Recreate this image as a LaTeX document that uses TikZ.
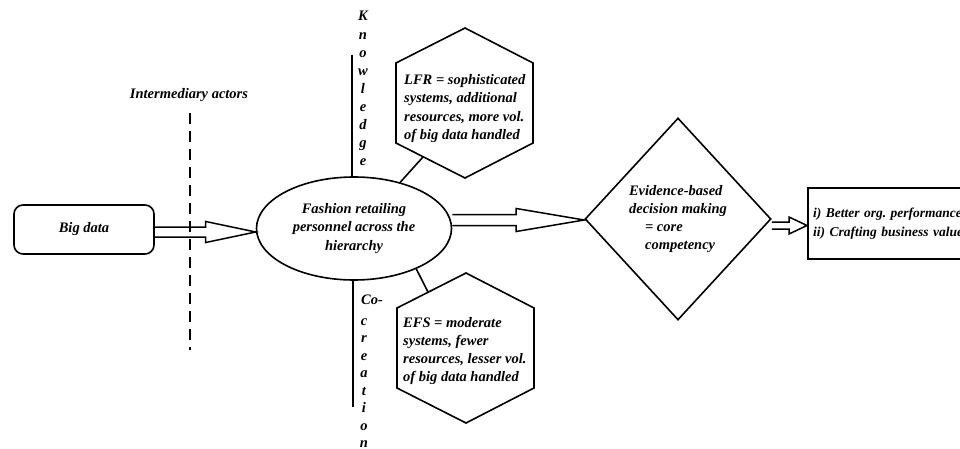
\documentclass[tikz,border=0pt]{standalone}
\usepackage{fontspec}
\setmainfont{Liberation Serif}
\usetikzlibrary{shapes.geometric,calc}
\newcommand{\hollowarr}[6]{%
  \draw[hollow] let \p1=(#1), \p2=(#2) in
    (\x1,\y2-#3pt+#4pt) -- (\x2-#6pt,\y2-#3pt+#4pt) -- (\x2-#6pt,\y2-#3pt+#5pt)
    -- (\x2,\y2-#3pt) -- (\x2-#6pt,\y2-#3pt-#5pt) -- (\x2-#6pt,\y2-#3pt-#4pt)
    -- (\x1,\y2-#3pt-#4pt);}
\begin{document}
\begin{tikzpicture}[x=1pt,y=-1pt,
  every node/.style={font=\fontsize{14.5}{18.2}\selectfont\bfseries\itshape, inner sep=0pt},
  outl/.style={draw, line width=1.6pt},
  hollow/.style={draw, line width=1.5pt, line join=miter},
  vline/.style={draw, line width=1.6pt},
  lettr/.style={anchor=base}
]
\useasboundingbox (0,0) rectangle (960,449);
\clip (0,0) rectangle (960,449);
% big data
\node[outl, rounded corners=9pt, minimum width=140pt, minimum height=49pt] (bd) at (84,229.5) {Big data};
% intermediary actors
\node (ia) at (189,95) {Intermediary actors};
\coordinate (dtop) at (190,113);
\coordinate (dbot) at (190,350);
\draw[line width=2pt, dash pattern=on 11pt off 7pt] (dtop) -- (dbot);
% ellipse
\node[outl, ellipse, minimum width=195pt, minimum height=103pt, align=center] (fr) at (354,228.5)
  {Fashion retailing\\personnel across the\\hierarchy};
% knowledge
\coordinate (kt) at (352,55);
\draw[vline] (kt) -- (kt |- fr.north);
\foreach \l [count=\i from 0] in {K,n,o,w,l,e,d,g,e}
  \node[lettr] (k\i) at (363,{21+18.1*\i}) {\l};
% co-creation
\coordinate (cb) at (353,407);
\draw[vline] (cb |- fr.south) -- (cb);
\node[lettr] (co) at (372,304) {Co-};
\foreach \l [count=\i from 0] in {c,r,e,a,t,i,o,n}
  \node[lettr] (c\i) at (364,{325+17.5*\i}) {\l};
% LFR hexagon
\coordinate (lfrc) at (465,103);
\draw[outl, line join=miter] (lfrc) ++(0,-75) -- ++(68,35) -- ++(0,80) -- ++(-68,35) -- ++(-69,-35) -- ++(0,-80) -- cycle;
\node[align=left, anchor=west] (lfr) at (404,108.5)
  {LFR = sophisticated\\systems, additional\\resources, more vol.\\of big data handled};
\coordinate (lfrp) at (423,157);
\draw[vline] (fr.45) -- (lfrp);
% EFS hexagon
\coordinate (efsc) at (466,348);
\draw[outl, line join=miter] (efsc) ++(0,-75) -- ++(68,35) -- ++(0,80) -- ++(-68,35) -- ++(-69,-35) -- ++(0,-80) -- cycle;
\node[align=left, anchor=west] (efs) at (403,351)
  {EFS = moderate\\systems, fewer\\resources, lesser vol.\\of big data handled};
\coordinate (efsp) at (428,292);
\draw[vline] (fr.-33) -- (efsp);
% diamond
\node[outl, diamond, minimum width=186pt, minimum height=202pt, align=left] (dm) at (678,219)
  {Evidence-based\\decision making\\\hspace*{16pt}= core\\\hspace*{16pt}competency};
% result
\node[draw, line width=2pt, anchor=north west, minimum width=200pt, minimum height=71pt,
  text width=190pt, align=left, inner sep=5pt,
  font=\fontsize{13.5}{19}\selectfont\bfseries\itshape] (res) at (807,187)
  {i) Better org.\ performance\\ii) Crafting business value};
% hollow arrows
\hollowarr{bd.east}{fr.west}{3.5}{5}{10.5}{50}
\hollowarr{fr.east}{dm.west}{1}{5.5}{11.5}{68}
\hollowarr{dm.east}{res.west}{2}{3.5}{8.5}{18}
\end{tikzpicture}
\end{document}
